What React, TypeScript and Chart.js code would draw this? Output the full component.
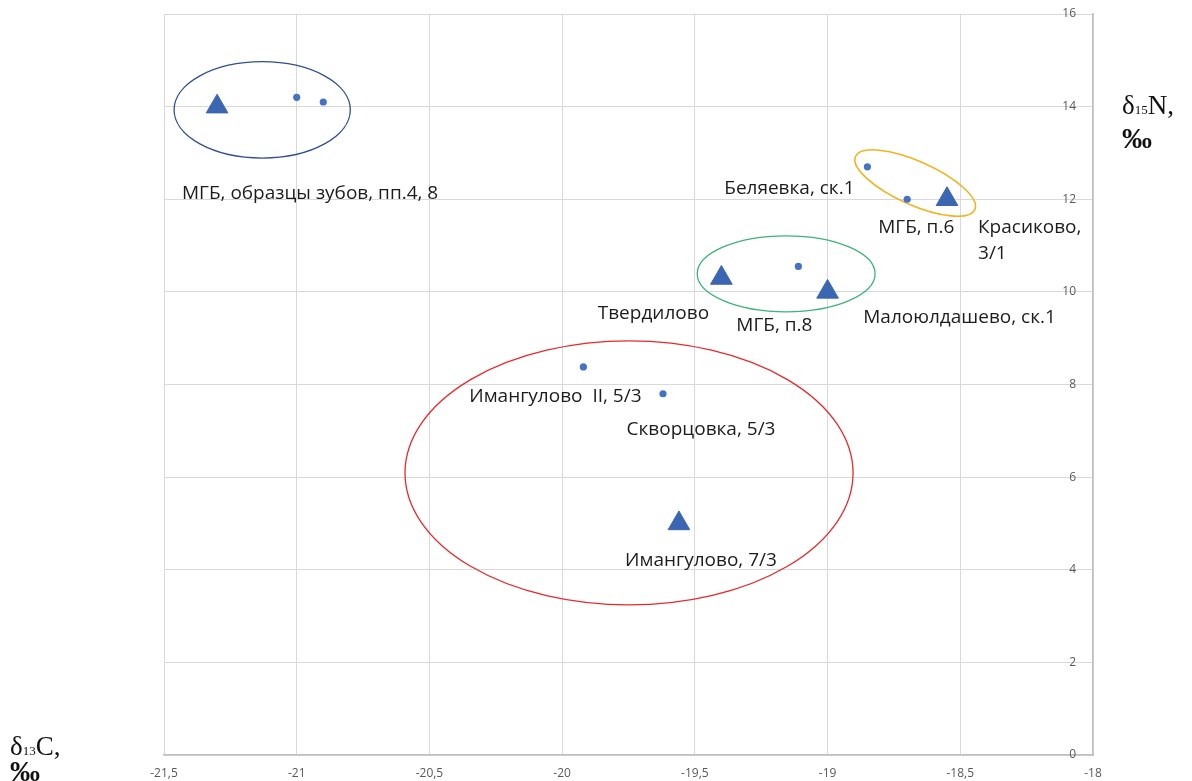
import React, { useEffect, useRef } from "react";
import { Chart, registerables } from "chart.js";

Chart.register(...registerables);

// Burial samples: δ13C (x) and δ15N (y), ‰
const triangleX = [-21.3, -18.55, -19.4, -19.0, -19.56];
const triangleY = [14.0, 12.0, 10.3, 10.0, 5.0];
const triangleLabels = [
  ["МГБ, образцы зубов, пп.4, 8"],
  ["Красиково,", "3/1"],
  ["Твердилово"],
  ["Малоюлдашево, ск.1"],
  ["Имангулово, 7/3"],
];

const circleX = [-21.0, -20.9, -18.85, -18.7, -19.11, -19.92, -19.62];
const circleY = [14.2, 14.1, 12.7, 12.0, 10.55, 8.38, 7.8];
const circleLabels = [
  [],
  [],
  ["Беляевка, ск.1"],
  ["МГБ, п.6"],
  ["МГБ, п.8"],
  ["Имангулово  II, 5/3"],
  ["Скворцовка, 5/3"],
];

// Label offsets from their point, in pixels: [dx (to text centre / left edge), dy (first line centre), align]
const triangleLabelOffsets = [
  [93, 87, "center"],
  [31, 28, "left"],
  [-68, 36, "center"],
  [132, 26, "center"],
  [22, 37, "center"],
];
const circleLabelOffsets = [
  [0, 0, "center"],
  [0, 0, "center"],
  [-78, 22, "center"],
  [9, 28, "center"],
  [-24, 59, "center"],
  [-28, 30, "center"],
  [38, 36, "center"],
];

// Group ellipses in data units: centre x, centre y, radius x, radius y
const groupCx = [-21.13, -19.156, -19.748];
const groupCy = [13.93, 10.39, 6.09];
const groupRx = [0.332, 0.335, 0.844];
const groupRy = [1.04, 0.82, 2.85];
const groupColors = ["#2F4E93", "#3DB37A", "#E8282D"];

// Tilted ellipse (semi-axes in x-units, angle in degrees)
const tiltedCx = -18.67;
const tiltedCy = 12.35;
const tiltedA = 0.246;
const tiltedB = 0.082;
const tiltedAngle = 24;
const tiltedColor = "#F2B41E";

const xTicks = [-21.5, -21, -20.5, -20, -19.5, -19, -18.5, -18];
const yTicks = [0, 2, 4, 6, 8, 10, 12, 14, 16];

const LABEL_FONT = "19px 'Open Sans', Lato, sans-serif";
const TICK_FONT = { family: "'Open Sans', Lato, sans-serif", size: 12 };

const decorPlugin = {
  id: "decor",
  beforeDatasetsDraw(chart: any) {
    const { ctx, scales } = chart;
    const xs = scales.x;
    const ys = scales.y;
    ctx.save();
    ctx.lineWidth = 1.3;
    for (let i = 0; i < groupCx.length; i++) {
      const cx = xs.getPixelForValue(groupCx[i]);
      const cy = ys.getPixelForValue(groupCy[i]);
      const rx = Math.abs(xs.getPixelForValue(groupCx[i] + groupRx[i]) - cx);
      const ry = Math.abs(ys.getPixelForValue(groupCy[i] + groupRy[i]) - cy);
      ctx.beginPath();
      ctx.ellipse(cx, cy, rx, ry, 0, 0, Math.PI * 2);
      ctx.strokeStyle = groupColors[i];
      ctx.stroke();
    }
    const tcx = xs.getPixelForValue(tiltedCx);
    const tcy = ys.getPixelForValue(tiltedCy);
    const unit = Math.abs(xs.getPixelForValue(1) - xs.getPixelForValue(0));
    ctx.beginPath();
    ctx.ellipse(tcx, tcy, tiltedA * unit, tiltedB * unit, (tiltedAngle * Math.PI) / 180, 0, Math.PI * 2);
    ctx.strokeStyle = tiltedColor;
    ctx.lineWidth = 1.6;
    ctx.stroke();
    ctx.restore();
  },
  afterDatasetsDraw(chart: any) {
    const { ctx, scales } = chart;
    const xs = scales.x;
    const ys = scales.y;
    ctx.save();
    ctx.font = LABEL_FONT;
    ctx.fillStyle = "#1c1c1c";
    ctx.textBaseline = "middle";
    const drawSet = (xsArr: number[], ysArr: number[], labels: string[][], offs: any[]) => {
      for (let i = 0; i < xsArr.length; i++) {
        const lines = labels[i];
        if (!lines.length) continue;
        const px = xs.getPixelForValue(xsArr[i]);
        const py = ys.getPixelForValue(ysArr[i]);
        const [dx, dy, align] = offs[i];
        ctx.textAlign = align;
        lines.forEach((line: string, k: number) => {
          ctx.fillText(line, px + dx, py + dy + k * 26);
        });
      }
    };
    drawSet(triangleX, triangleY, triangleLabels, triangleLabelOffsets);
    drawSet(circleX, circleY, circleLabels, circleLabelOffsets);
    ctx.restore();
  },
  afterDraw(chart: any) {
    const { ctx } = chart;
    ctx.save();
    ctx.fillStyle = "#111";
    ctx.textBaseline = "alphabetic";
    ctx.textAlign = "left";
    const drawDelta = (x: number, y: number, sub: string, letter: string) => {
      ctx.font = "27px 'Liberation Serif', 'DejaVu Serif', serif";
      ctx.fillText("δ", x, y);
      let cx = x + ctx.measureText("δ").width;
      ctx.font = "13px 'Liberation Serif', serif";
      ctx.fillText(sub, cx, y);
      cx += ctx.measureText(sub).width;
      ctx.font = "27px 'Liberation Serif', 'DejaVu Serif', serif";
      ctx.fillText(letter + ",", cx, y);
    };
    const drawPermille = (x: number, y: number) => {
      ctx.font = "bold 30px 'Liberation Serif', serif";
      ctx.fillText("‰", x, y);
    };
    drawDelta(1122, 114, "15", "N");
    drawPermille(1122, 148);
    drawDelta(10, 755, "13", "C");
    drawPermille(10, 781);
    ctx.restore();
  },
};

export default function App() {
  const ref = useRef<HTMLCanvasElement | null>(null);

  useEffect(() => {
    if (!ref.current) return;
    const chart = new Chart(ref.current, {
      type: "scatter",
      data: {
        datasets: [
          {
            label: "triangles",
            data: triangleX.map((x, i) => ({ x, y: triangleY[i] })),
            pointStyle: "triangle",
            pointRadius: 12.5,
            backgroundColor: "#3A66B2",
            borderColor: "#3A66B2",
            borderWidth: 1,
          },
          {
            label: "circles",
            data: circleX.map((x, i) => ({ x, y: circleY[i] })),
            pointStyle: "circle",
            pointRadius: 3.6,
            backgroundColor: "#4472C4",
            borderColor: "#4472C4",
            borderWidth: 0,
          },
        ],
      },
      options: {
        animation: false,
        responsive: false,
        maintainAspectRatio: false,
        layout: { padding: { left: 164, right: 99, top: 14, bottom: 0 } },
        plugins: {
          legend: { display: false },
          tooltip: { enabled: false },
        },
        scales: {
          x: {
            type: "linear",
            position: "bottom",
            min: -21.5,
            max: -18,
            afterBuildTicks: (scale: any) => {
              scale.ticks = xTicks.map((v) => ({ value: v }));
            },
            afterFit: (scale: any) => {
              scale.height = 26;
              scale.paddingLeft = 0;
              scale.paddingRight = 0;
            },
            ticks: {
              padding: 11,
              color: "#595959",
              font: TICK_FONT,
              callback: (v: any) => String(v).replace(".", ","),
            },
            grid: { color: "#D9D9D9", drawTicks: false, lineWidth: 1 },
            border: { color: "#BFBFBF", width: 1.5 },
          },
          y: {
            type: "linear",
            position: "right",
            min: 0,
            max: 16,
            afterBuildTicks: (scale: any) => {
              scale.ticks = yTicks.map((v) => ({ value: v }));
            },
            afterFit: (scale: any) => {
              scale.width = 0;
              scale.paddingTop = 0;
              scale.paddingBottom = 0;
            },
            ticks: {
              mirror: true,
              padding: -17,
              color: "#595959",
              font: TICK_FONT,
            },
            grid: { color: "#D9D9D9", drawTicks: false, lineWidth: 1 },
            border: { color: "#BFBFBF", width: 1.5 },
          },
        },
      },
      plugins: [decorPlugin],
    });
    return () => chart.destroy();
  }, []);

  return (
    <div style={{ position: "fixed", left: 0, top: 0, width: 1192, height: 781, background: "#fff" }}>
      <canvas ref={ref} width={1192} height={781} style={{ display: "block" }} />
    </div>
  );
}
